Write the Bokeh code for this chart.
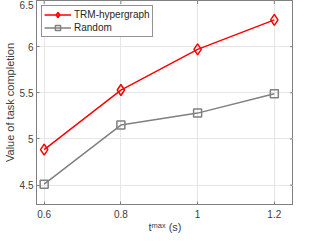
from bokeh.plotting import figure
from bokeh.models import Range1d, FixedTicker, CustomJSTickFormatter, Legend, LegendItem
from bokeh.embed import file_html
from bokeh.resources import INLINE

t_max = [0.6, 0.8, 1.0, 1.2]
trm_hypergraph = [4.885, 5.53, 5.97, 6.29]
random_vals = [4.51, 5.15, 5.28, 5.49]
x_ticks = [0.6, 0.8, 1.0, 1.2]
y_ticks = [4.5, 5.0, 5.5, 6.0, 6.5]

FONT = "Liberation Sans"
TXT = "#404040"
AX = "#808080"

p = figure(width=293, height=235, output_backend="svg", toolbar_location=None,
           x_range=Range1d(0.58, 1.25), y_range=Range1d(4.29, 6.5),
           min_border_left=0, min_border_right=0, min_border_top=0, min_border_bottom=0)
p.background_fill_color = "white"
p.border_fill_color = "white"
p.outline_line_color = AX
p.outline_line_width = 1

fmt = CustomJSTickFormatter(code="return String(tick);")
for ax in (p.xaxis[0], p.yaxis[0]):
    ax.formatter = fmt
    ax.axis_line_color = AX
    ax.major_tick_line_color = AX
    ax.major_tick_in = 3
    ax.major_tick_out = 0
    ax.minor_tick_line_color = None
    ax.major_label_text_font = FONT
    ax.major_label_text_font_size = "10px"
    ax.major_label_text_color = TXT
    ax.axis_label_text_font = FONT
    ax.axis_label_text_font_size = "11px"
    ax.axis_label_text_font_style = "normal"
    ax.axis_label_text_color = TXT
p.xaxis[0].ticker = FixedTicker(ticks=x_ticks)
p.yaxis[0].ticker = FixedTicker(ticks=y_ticks)
p.xaxis[0].major_label_standoff = 5
p.xaxis[0].axis_label = "t\u1d50\u1d43\u02e3 (s)"
p.xaxis[0].axis_label_standoff = 0
p.yaxis[0].major_label_standoff = 3
p.yaxis[0].axis_label = "Value of task completion"
p.yaxis[0].axis_label_standoff = 1

p.xgrid.ticker = FixedTicker(ticks=x_ticks)
p.ygrid.ticker = FixedTicker(ticks=y_ticks)
p.xgrid.grid_line_color = "#e6e6e6"
p.ygrid.grid_line_color = "#e6e6e6"

# inward tick marks on the top and right edges of the box (clipped at the frame)
p.scatter(x_ticks, [p.y_range.end] * len(x_ticks), marker="dash", angle=1.5708,
          size=7, line_color=AX, line_width=1)
p.scatter([p.x_range.end] * len(y_ticks), y_ticks, marker="dash",
          size=7, line_color=AX, line_width=1)

r1 = p.line(t_max, trm_hypergraph, line_color="#ff0000", line_width=1.5)
m1 = p.scatter(t_max, trm_hypergraph, marker="diamond", size=11, line_color="#ff0000",
               fill_color=None, line_width=1.5)
r2 = p.line(t_max, random_vals, line_color="#808080", line_width=1.5)
m2 = p.scatter(t_max, random_vals, marker="square", size=8, line_color="#808080",
               fill_color=None, line_width=1.5)

legend = Legend(items=[LegendItem(label="TRM-hypergraph", renderers=[r1, m1]),
                       LegendItem(label="Random", renderers=[r2, m2])],
                location="top_left")
legend.label_text_font = FONT
legend.label_text_font_size = "10px"
legend.label_text_color = "#262626"
legend.border_line_color = "#262626"
legend.border_line_width = 1
legend.background_fill_color = "white"
legend.background_fill_alpha = 1
legend.glyph_width = 27
legend.glyph_height = 13
legend.label_height = 13
legend.spacing = 0
legend.padding = 2
legend.margin = 5
legend.label_standoff = 3
p.add_layout(legend)

open("out.html", "w").write(file_html(p, INLINE))
